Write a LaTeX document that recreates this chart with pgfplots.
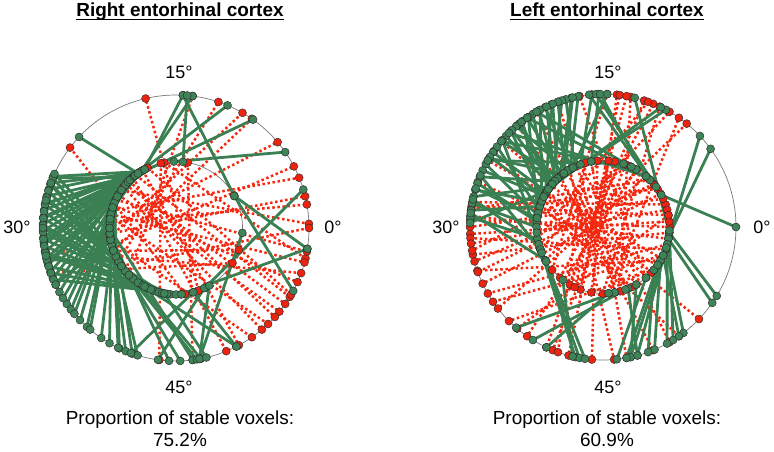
\documentclass[border=0pt]{standalone}
\usepackage{fontspec}
\setmainfont{Liberation Sans}
\usepackage{pgfplots}
\pgfplotsset{compat=1.18}
\usepackage{pgfplotstable}
\definecolor{lgreen}{RGB}{58,128,82}
\definecolor{mgreen}{RGB}{62,132,88}
\definecolor{lred}{RGB}{245,40,15}
\definecolor{mred}{RGB}{235,35,15}
\definecolor{medge}{RGB}{45,45,45}
\definecolor{cgray}{RGB}{120,120,120}

% a = orientation in first session (inner circle), b = second session (outer circle), degrees (0-60)
\pgfplotstableread{
a b
16.7 57.8
21.2 54.8
23.2 54.2
25 53.5
26.7 56
28.3 52.3
29.2 1.7
30.8 2.3
32.5 4.6
33.3 9.2
35 11.9
37.5 13.8
48.3 17.2
46.3 23.8
17.2 43.8
13.3 46.2
20 49.7
21.7 48.7
24.2 0.3
25.8 58.3
27.5 3.7
31.7 50.8
34.2 56.7
30 6.7
35.8 0
22.5 53
56.8 31.7
54.7 33.3
19.2 55
23.7 51.7
31.3 10
28 57.5
}\rightRed

\pgfplotstableread{
a b
20.3 26.2
20.8 26.7
19.7 27.2
21.3 27.7
22 28.2
20 28.7
21 29.2
22.5 29.7
21.7 30.2
20.7 30.7
23 31.2
21.3 31.7
22.2 32.2
23.3 32.7
21.2 33.2
22.7 33.7
20.5 34.2
21.8 26.3
19.8 28.3
22.3 29.3
20.2 31
21.5 32.5
20.3 13.8
20.8 11.2
21.3 9.1
20.8 22.8
19.7 14.5
15.3 5.8
4.8 14.5
4.8 58.5
4.8 55.3
49.3 2.8
45.7 58.5
59.3 46.7
47.5 49.5
39.5 49.5
14 14.2
33.3 26.3
35.8 26.8
38.3 27.3
40.8 27.8
41.7 28.3
39.2 28.8
43.3 29.3
36.7 29.8
42.5 30.3
44.2 30.8
40 31.3
45 31.8
35 32.3
41.3 32.8
43.7 33.3
45.8 33.8
31.7 34.2
30.8 26
32.5 28
37.5 26.7
40.3 30
43 32
25 34.8
26.7 35.8
24.2 36.3
28.3 36.7
25.8 37.3
29.2 38
27.5 40
26.3 40.8
30 41.3
28 41.8
31.7 42.2
30.8 44.5
33.3 40.7
25.3 39.3
28.7 35.3
27 38.3
30 46.2
35.8 46.5
34.2 46.8
47.5 41.7
49.2 43.7
50 46.7
33.3 45.3
43.3 47.2
}\rightGreen

\pgfplotstableread{
a b
3.3 28.2
1.7 28.5
5.8 28.8
58.3 29.2
0 29.5
0.8 30.5
56.7 30.8
2.5 31.2
55 33.2
55.8 35.7
53.3 37.5
7.5 28.7
4.2 30
59.2 32
5 34.2
10 39.2
13.3 40.8
11.7 41.3
8.3 36.3
6.7 32.5
57.5 35
1.7 38.3
43.3 14
41.7 13.8
40 12
38.3 11.3
45 10.8
35 8.5
47.5 13
36.7 14.7
33.3 10
45.8 9.2
40.8 13.3
31.7 11.7
25 52.7
21.7 48.7
18.3 50
16.7 46.7
26.7 50.8
15.8 44.2
20 45.8
14.2 42.5
17.5 41.7
55.3 25
52.8 23.3
48.5 20
46.7 18.3
50 21.7
51.7 16.7
54.2 26.7
49.2 24.2
6.5 33.3
11 31.7
}\leftRed

\pgfplotstableread{
a b
20 16.8
21.7 17.3
19.2 17.7
23.3 18
20.8 18.3
25 18.8
19.7 19.3
22.5 19.8
24.2 20.3
21.3 20.8
26.7 21.2
23 21.5
20.3 21.8
25.8 22.3
23.7 22.8
22 23.3
27.5 23.8
24.7 24.3
21.2 24.8
28.3 25.3
25.3 25.8
22.8 26.3
29.2 26.8
26.3 27.3
23.8 27.8
30 28.3
27 28.8
31.7 29.3
24.5 29.7
18.3 15.8
16.7 15.3
19.5 14.7
21 17.2
22.2 18.7
26.2 19.7
28 20.7
23.2 22.2
30.8 23.2
25.5 24.7
33.3 26.2
28.7 27.2
32.5 28
35 29
24 21.3
22.7 19.2
12 25
10 23.3
8.3 22.5
7.7 20.8
10.8 20
23.3 10.3
24.2 10.7
59.2 12.7
58.3 7.2
58.7 6
4.8 0
6.2 15.5
7.5 16
8.3 15.2
59.2 54.8
58.3 54.2
59.5 50.3
57.5 49.8
56.7 47.5
55.8 47
55 48.8
57 51.2
51.7 46
50 47
48.7 47.5
46.7 38.2
48.3 39.7
45.8 40.8
33.3 43
33.8 43.3
38.8 42.8
35.2 43.7
53.3 48.3
55.8 50.8
54.2 46.7
}\leftGreen

\pgfplotsset{
  ringaxis/.style={scale only axis, width=292.6bp, height=292.6bp,
    xmin=-1.1, xmax=1.1, ymin=-1.1, ymax=1.1, hide axis, clip=false, anchor=center},
  redline/.style={draw=lred, line width=2.5bp, dash pattern=on 2.5bp off 2.6bp,
    quiver={u={cos(6*\thisrow{b})-0.5*cos(6*\thisrow{a})}, v={sin(6*\thisrow{b})-0.5*sin(6*\thisrow{a})}}},
  greenline/.style={draw=lgreen, line width=2.8bp,
    quiver={u={cos(6*\thisrow{b})-0.5*cos(6*\thisrow{a})}, v={sin(6*\thisrow{b})-0.5*sin(6*\thisrow{a})}}},
  redmark/.style={only marks, mark=*, mark size=4bp, draw=medge, fill=mred, line width=0.45bp},
  greenmark/.style={only marks, mark=*, mark size=4bp, draw=medge, fill=mgreen, line width=0.45bp},
}
\newcommand{\ring}[2]{%
  \draw[cgray, line width=0.7bp] (axis cs:0,0) circle[radius=133bp];
  \draw[cgray, line width=0.7bp] (axis cs:0,0) circle[radius=66.5bp];
  \addplot[redline] table[x expr={0.5*cos(6*\thisrow{a})}, y expr={0.5*sin(6*\thisrow{a})}] {#1};
  \addplot[greenline] table[x expr={0.5*cos(6*\thisrow{a})}, y expr={0.5*sin(6*\thisrow{a})}] {#2};
  \addplot[redmark] table[x expr={0.5*cos(6*\thisrow{a})}, y expr={0.5*sin(6*\thisrow{a})}] {#1};
  \addplot[redmark] table[x expr={cos(6*\thisrow{b})}, y expr={sin(6*\thisrow{b})}] {#1};
  \addplot[greenmark] table[x expr={0.5*cos(6*\thisrow{a})}, y expr={0.5*sin(6*\thisrow{a})}] {#2};
  \addplot[greenmark] table[x expr={cos(6*\thisrow{b})}, y expr={sin(6*\thisrow{b})}] {#2};
}

\begin{document}
\begin{tikzpicture}
\path[use as bounding box] (0,0) rectangle (774bp,-452bp);

\begin{axis}[ringaxis, at={(176bp,-228bp)}]
\ring{\rightRed}{\rightGreen}
\end{axis}

\begin{axis}[ringaxis, at={(603bp,-227bp)}]
\ring{\leftRed}{\leftGreen}
\end{axis}

\begin{scope}[every node/.style={inner sep=0pt, anchor=base}]
\node[font=\fontsize{19}{22}\selectfont\bfseries] (t1) at (180bp,-16bp) {Right entorhinal cortex};
\draw[line width=1.6bp] ([yshift=-3.6bp]t1.base west) -- ([yshift=-3.6bp]t1.base east);
\node[font=\fontsize{19}{22}\selectfont\bfseries] (t2) at (607bp,-16bp) {Left entorhinal cortex};
\draw[line width=1.6bp] ([yshift=-3.6bp]t2.base west) -- ([yshift=-3.6bp]t2.base east);

\node[font=\fontsize{18}{22}\selectfont] at (179bp,-78bp) {15°};
\node[font=\fontsize{18}{22}\selectfont] at (179bp,-393bp) {45°};
\node[font=\fontsize{18}{22}\selectfont] at (333bp,-233bp) {0°};
\node[font=\fontsize{18}{22}\selectfont] at (17bp,-233bp) {30°};

\node[font=\fontsize{18}{22}\selectfont] at (608bp,-78bp) {15°};
\node[font=\fontsize{18}{22}\selectfont] at (608bp,-393bp) {45°};
\node[font=\fontsize{18}{22}\selectfont] at (762bp,-233bp) {0°};
\node[font=\fontsize{18}{22}\selectfont] at (446bp,-233bp) {30°};

\node[font=\fontsize{19}{22}\selectfont] at (180bp,-424bp) {Proportion of stable voxels:};
\node[font=\fontsize{19}{22}\selectfont] at (180bp,-446bp) {75.2\%};
\node[font=\fontsize{19}{22}\selectfont] at (607bp,-424bp) {Proportion of stable voxels:};
\node[font=\fontsize{19}{22}\selectfont] at (607bp,-446bp) {60.9\%};
\end{scope}
\end{tikzpicture}
\end{document}
